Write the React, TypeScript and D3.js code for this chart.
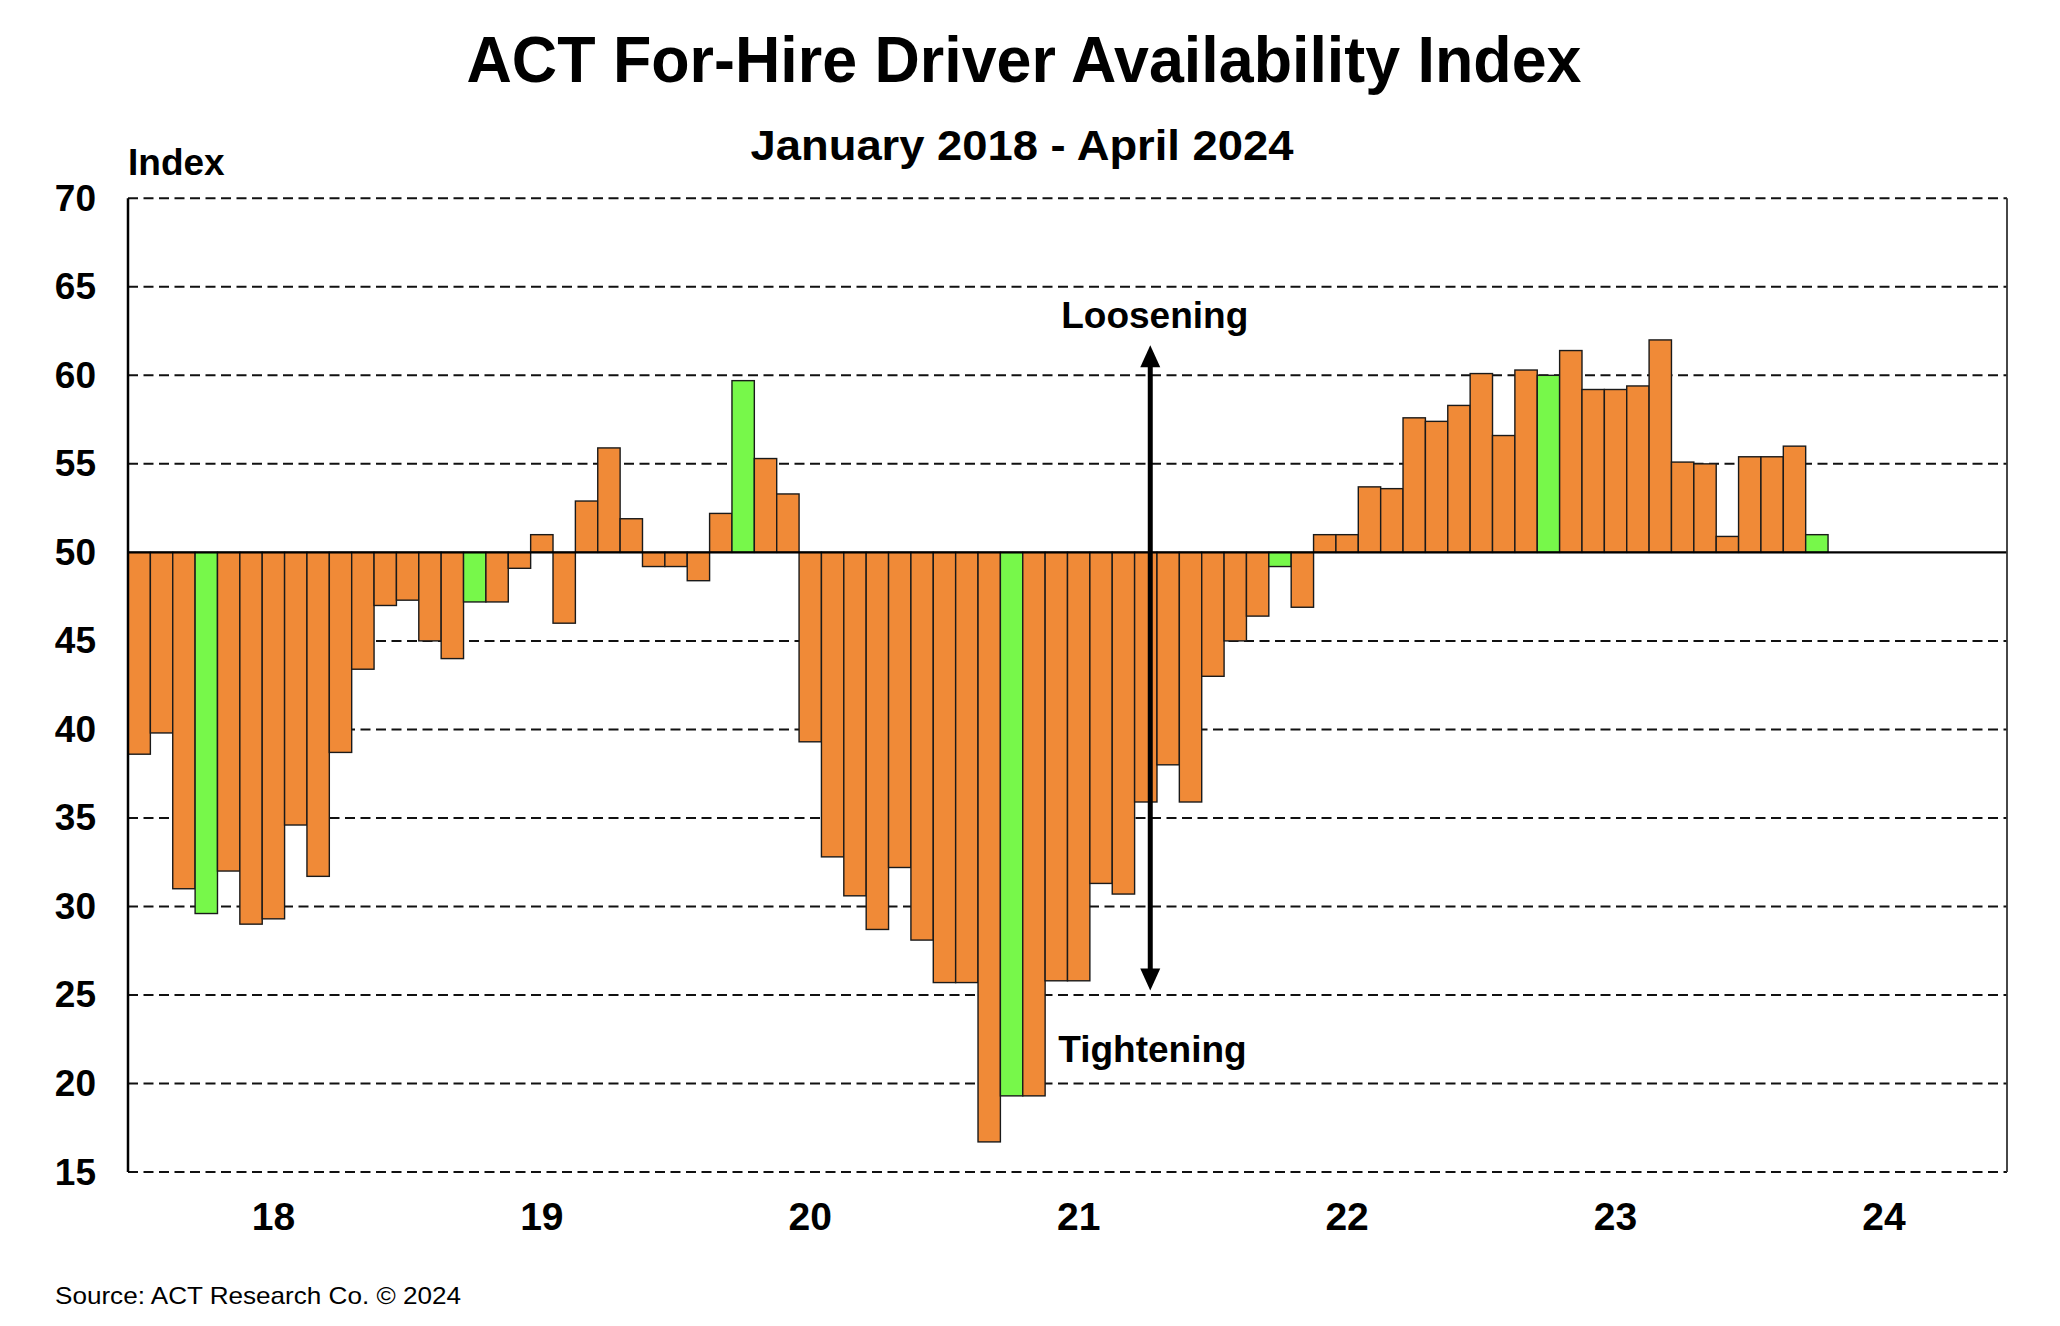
import React from 'react';
import * as d3 from 'd3';

// ACT For-Hire Driver Availability Index, monthly, Jan 2018 - Apr 2024
const years = ['18', '19', '20', '21', '22', '23', '24'];
const v2018 = [38.6, 39.8, 31.0, 29.6, 32.0, 29.0, 29.3, 34.6, 31.7, 38.7, 43.4, 47.0];
const v2019 = [47.3, 45.0, 44.0, 47.2, 47.2, 49.1, 51.0, 46.0, 52.9, 55.9, 51.9, 49.2];
const v2020 = [49.2, 48.4, 52.2, 59.7, 55.3, 53.3, 39.3, 32.8, 30.6, 28.7, 32.2, 28.1];
const v2021 = [25.7, 25.7, 16.7, 19.3, 19.3, 25.8, 25.8, 31.3, 30.7, 35.9, 38.0, 35.9];
const v2022 = [43.0, 45.0, 46.4, 49.2, 46.9, 51.0, 51.0, 53.7, 53.6, 57.6, 57.4, 58.3];
const v2023 = [60.1, 56.6, 60.3, 60.0, 61.4, 59.2, 59.2, 59.4, 62.0, 55.1, 55.0, 50.9];
const v2024 = [55.4, 55.4, 56.0, 51.0];
const yTicks = [15, 20, 25, 30, 35, 40, 45, 50, 55, 60, 65, 70];
const highlightMonth = 3; // April bars are drawn in green

const values = [...v2018, ...v2019, ...v2020, ...v2021, ...v2022, ...v2023, ...v2024];

const W = 2060;
const H = 1326;
const margin = { left: 128, right: 2007, top: 198.3, bottom: 1172 };
const font = '"Liberation Sans", Arial, sans-serif';

export default function App() {
  const slots = d3.range(years.length * 12);
  const x = d3.scaleBand<number>().domain(slots).range([margin.left, margin.right]).padding(0);
  const y = d3.scaleLinear().domain([15, 70]).range([margin.bottom, margin.top]);
  const bw = x.bandwidth();
  const xm = (m: number) => margin.left + m * bw; // position in month units
  const base = 50;

  const arrowX = xm(45.7);
  const arrowTop = y(61.7);
  const arrowBot = y(25.25);

  return (
    <div style={{ position: 'absolute', left: 0, top: 0 }}>
      <svg width={W} height={H} style={{ display: 'block', background: '#fff' }} fontFamily={font}>
        <text x={1024} y={82} textAnchor="middle" fontSize={64} fontWeight="bold"
          textLength={1115} lengthAdjust="spacingAndGlyphs">
          ACT For-Hire Driver Availability Index
        </text>
        <text x={1022} y={160} textAnchor="middle" fontSize={42} fontWeight="bold"
          textLength={543} lengthAdjust="spacingAndGlyphs">
          January 2018 - April 2024
        </text>
        <text x={128} y={175} fontSize={37} fontWeight="bold">Index</text>

        {/* gridlines */}
        {yTicks.filter(t => t !== base).map(t => (
          <line key={t} x1={margin.left} x2={margin.right} y1={y(t)} y2={y(t)}
            stroke="#111" strokeWidth={2} strokeDasharray="10,5.5" />
        ))}

        {/* bars */}
        {values.map((v, i) => (
          <rect key={i} x={x(i)} width={bw}
            y={Math.min(y(v), y(base))} height={Math.abs(y(v) - y(base))}
            fill={i % 12 === highlightMonth ? '#77F84A' : '#F08A37'}
            stroke="#1a1a1a" strokeWidth={1.4} />
        ))}

        {/* baseline at 50 and frame */}
        <line x1={margin.left} x2={margin.right} y1={y(base)} y2={y(base)} stroke="#000" strokeWidth={2.2} />
        <line x1={margin.left} x2={margin.left} y1={margin.top} y2={margin.bottom} stroke="#000" strokeWidth={2.5} />
        <line x1={margin.right} x2={margin.right} y1={margin.top} y2={margin.bottom} stroke="#333" strokeWidth={1.8} />

        {/* y tick labels */}
        {yTicks.map(t => (
          <text key={t} x={96} y={y(t)} textAnchor="end" dominantBaseline="central"
            fontSize={37} fontWeight="bold">{t}</text>
        ))}

        {/* x tick labels, centred on July of each year */}
        {years.map((yr, k) => (
          <text key={yr} x={xm(k * 12 + 6.5)} y={1230} textAnchor="middle"
            fontSize={39} fontWeight="bold">{yr}</text>
        ))}

        {/* annotation arrow */}
        <line x1={arrowX} x2={arrowX} y1={arrowTop + 18} y2={arrowBot - 18} stroke="#000" strokeWidth={5} />
        <path d={`M${arrowX},${arrowTop} L${arrowX - 10},${arrowTop + 22} L${arrowX + 10},${arrowTop + 22} Z`} fill="#000" />
        <path d={`M${arrowX},${arrowBot} L${arrowX - 10},${arrowBot - 22} L${arrowX + 10},${arrowBot - 22} Z`} fill="#000" />
        <text x={xm(45.9)} y={y(62.7)} textAnchor="middle" fontSize={37} fontWeight="bold">Loosening</text>
        <text x={xm(45.8)} y={y(21.2)} textAnchor="middle" fontSize={37} fontWeight="bold">Tightening</text>

        <text x={55} y={1304} fontSize={24} textLength={406} lengthAdjust="spacingAndGlyphs">
          Source: ACT Research Co. © 2024
        </text>
      </svg>
    </div>
  );
}
